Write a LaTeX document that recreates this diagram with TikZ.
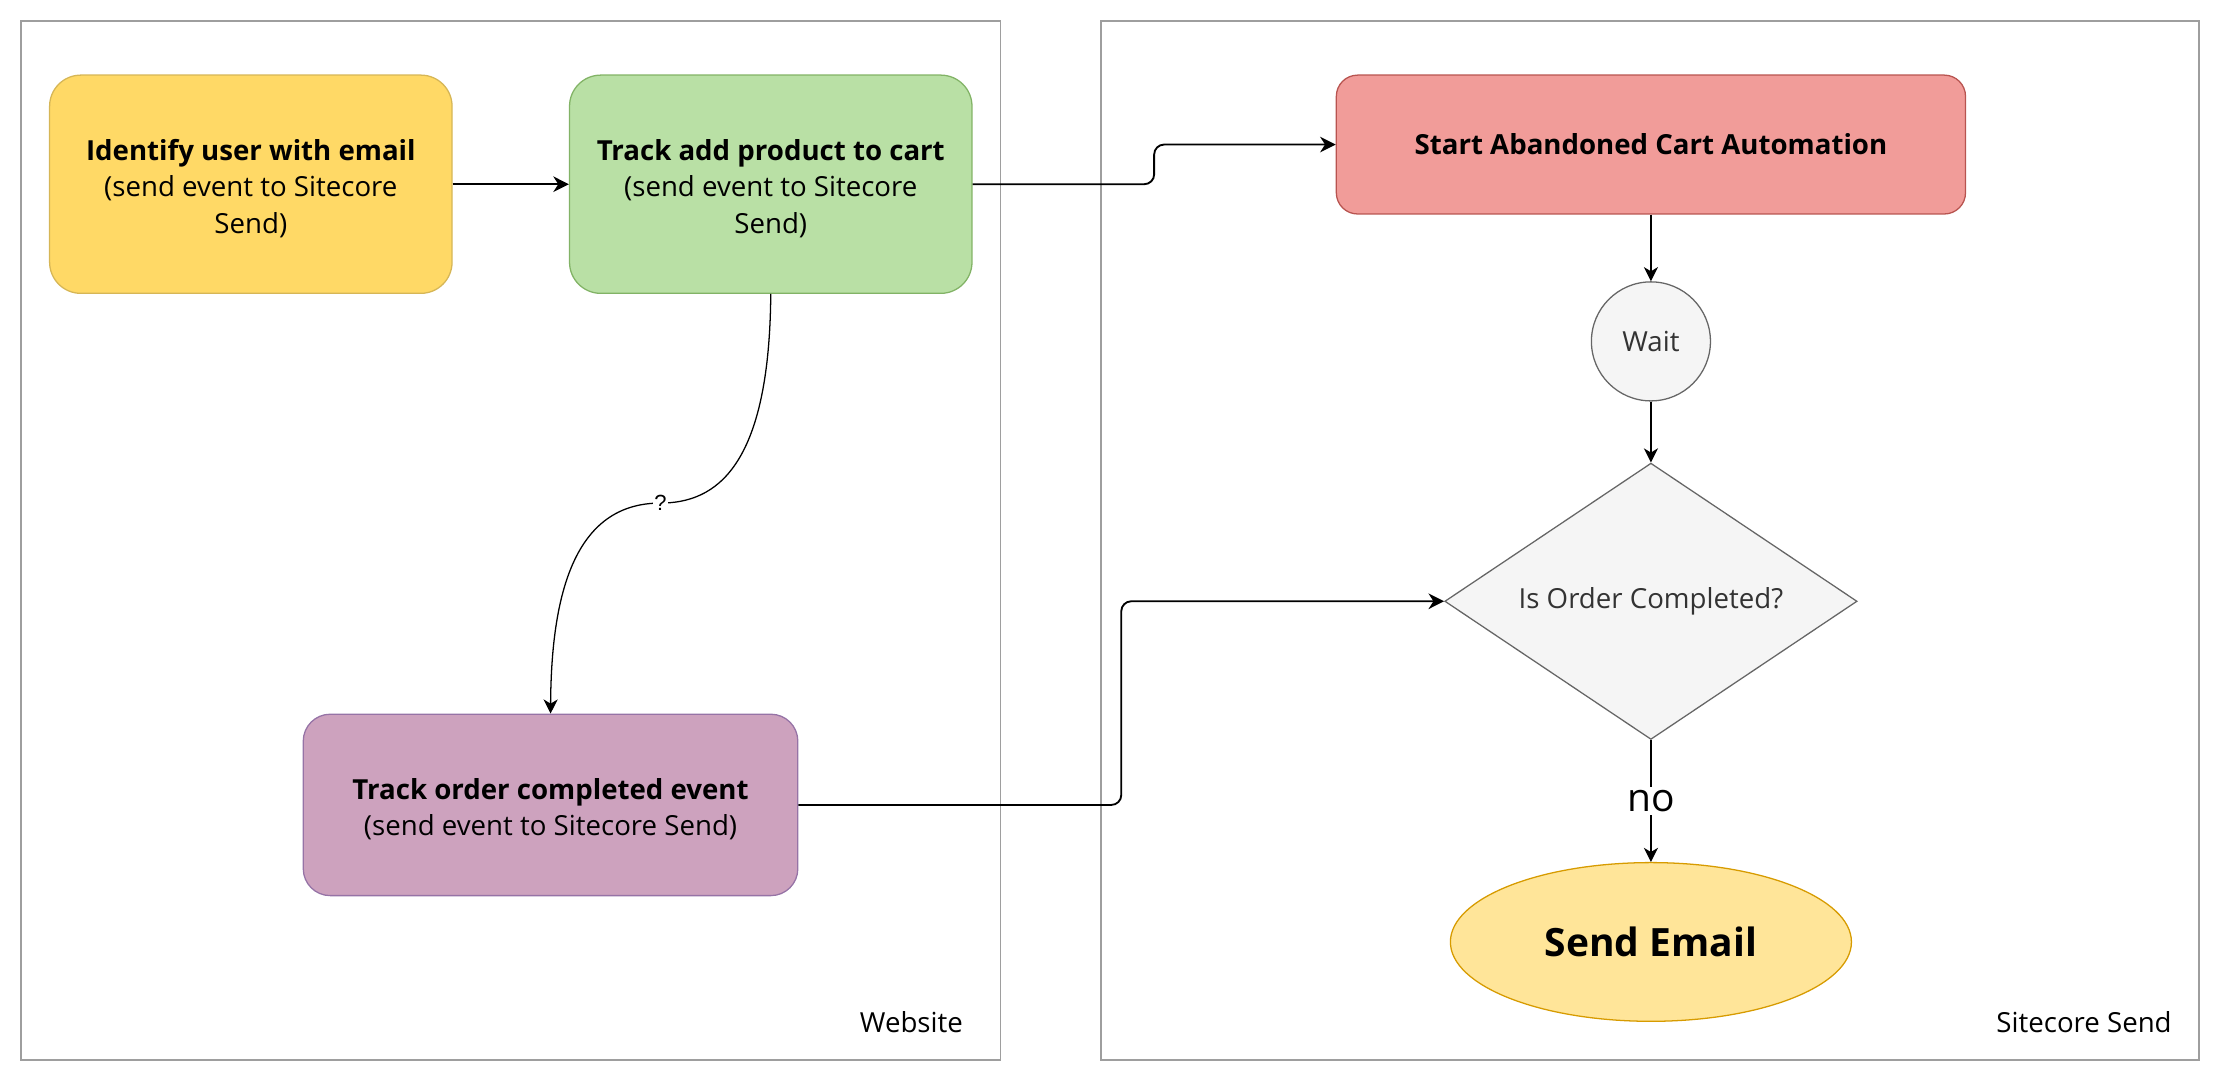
\documentclass[tikz,border=0pt]{standalone}
\usepackage{fontspec}
\setmainfont{Open Sans}
\newfontfamily\helv{Liberation Sans}
\usetikzlibrary{arrows.meta,positioning,shapes.geometric,calc}

\definecolor{idfill}{HTML}{FFD966}
\definecolor{idline}{HTML}{D6B656}
\definecolor{addfill}{HTML}{B9E0A5}
\definecolor{addline}{HTML}{82B366}
\definecolor{ordfill}{HTML}{CDA2BE}
\definecolor{ordline}{HTML}{9673A6}
\definecolor{startfill}{HTML}{F19C99}
\definecolor{startline}{HTML}{B85450}
\definecolor{greyfill}{HTML}{F5F5F5}
\definecolor{greyline}{HTML}{666666}
\definecolor{greytext}{HTML}{333333}
\definecolor{mailfill}{HTML}{FFE599}
\definecolor{mailline}{HTML}{D79B00}
\definecolor{frame}{HTML}{9E9E9E}

\tikzstyle{txt}=[font=\fontsize{19.5}{25.5}\selectfont]
\tikzstyle{big}=[font=\fontsize{27.5}{30}\selectfont]
\tikzstyle{box}=[draw, rectangle, txt, align=center, inner sep=0pt, line width=0.9pt]
\tikzstyle{grey}=[draw=greyline, fill=greyfill, text=greytext, txt, inner sep=0pt, line width=0.9pt]
\tikzstyle{group}=[draw=frame, line width=1.3pt, inner sep=0pt]
\tikzstyle{flow}=[-{Stealth[length=11pt,width=11pt,inset=3.5pt]}, line width=1.3pt, rounded corners=7pt]
\tikzstyle{link}=[-{Stealth[length=10pt,width=10pt,inset=3pt]}, line width=0.9pt]
\newcommand{\lift}{\rule{0pt}{21pt}}

\begin{document}
\begin{tikzpicture}[x=1pt, y=-1pt]
    \useasboundingbox (0,0) rectangle (1568,763.6);
    % the two swimlanes
    \node [group, minimum width=691pt, minimum height=733pt] (web) at (360.5,381.5) {};
    \node [group, minimum width=775pt, minimum height=733pt] (sc) at (1164.5,381.5) {};
    \node [txt, anchor=east] (weblbl) at (683,721) {Website};
    \node [txt, anchor=east] (sclbl) at (1536,721) {Sitecore Send};

    % website side
    \node [box, fill=idfill, draw=idline, rounded corners=22pt, minimum width=284pt, minimum height=154pt] (id) at (177,130)
        {\lift\textbf{Identify user with email}\\(send event to Sitecore\\Send)};
    \node [box, fill=addfill, draw=addline, rounded corners=22pt, minimum width=284pt, minimum height=154pt, right=82pt of id] (add)
        {\lift\textbf{Track add product to cart}\\(send event to Sitecore\\Send)};
    \node [box, fill=ordfill, draw=ordline, rounded corners=19pt, minimum width=349pt, minimum height=128pt] (order) at (388.5,568)
        {\lift\textbf{Track order completed event}\\(send event to Sitecore Send)};

    % sitecore send side
    \node [box, fill=startfill, draw=startline, rounded corners=15pt, minimum width=444pt, minimum height=98pt] (start) at (1165,102)
        {\textbf{Start Abandoned Cart Automation}};
    \node [grey, circle, minimum size=84pt, below=47pt of start] (wait) {Wait};
    \node [grey, diamond, aspect=1.5, minimum width=291pt, minimum height=195pt, below=43pt of wait] (cond) {Is Order Completed?};
    \node [ellipse, draw=mailline, fill=mailfill, line width=0.9pt, inner sep=0pt, minimum width=283pt, minimum height=112pt, big, below=86pt of cond] (mail)
        {\textbf{Send Email}};

    \coordinate (q) at (466,355);

    \path[flow] (id) edge (add);
    \draw[flow] (add.east) -| ($(add.east)!.5!(start.west)$) |- (start.west);
    \draw[flow] (order.east) -| ($(order.east)!.5!(cond.west)$) |- (cond.west);
    \draw[link] (add.south) .. controls (543,330) and (505,355) .. (q)
        node [fill=white, inner sep=1pt, font=\helv\fontsize{15.5}{16}\selectfont] {?}
        .. controls (405,355) and (389,420) .. (order.north);
    \path[link] (start) edge (wait);
    \path[link] (wait) edge (cond);
    \draw[link] (cond) -- node [fill=white, inner sep=2pt, big] {no} (mail);
\end{tikzpicture}
\end{document}
